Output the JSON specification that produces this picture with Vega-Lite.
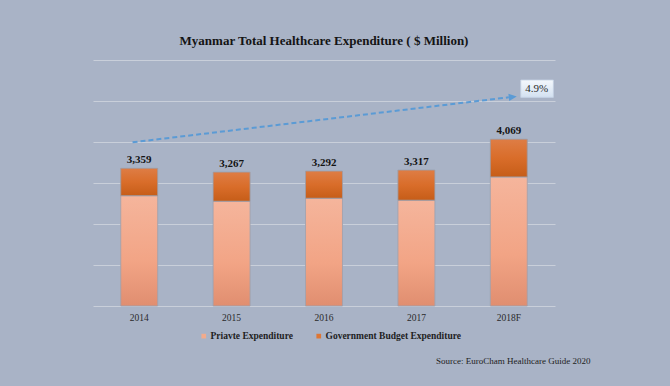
{
  "$schema": "https://vega.github.io/schema/vega-lite/v6.json",
  "autosize": {"type": "none"},
  "padding": {"left": 93, "top": 60, "right": 115, "bottom": 80},
  "width": 462,
  "height": 246,
  "background": "#A9B3C6",
  "title": {
    "text": "Myanmar Total Healthcare Expenditure ( $ Million)",
    "font": "Liberation Serif",
    "fontSize": 13,
    "fontWeight": "bold",
    "color": "#141414",
    "anchor": "middle",
    "offset": 12
  },
  "datasets": {
    "spend": [
      {"year": "2014", "private": 2690, "total": 3359},
      {"year": "2015", "private": 2555, "total": 3267},
      {"year": "2016", "private": 2628, "total": 3292},
      {"year": "2017", "private": 2580, "total": 3317},
      {"year": "2018F", "private": 3148, "total": 4069}
    ],
    "growth": [
      {"year": "2014", "year2": "2018F", "start": 3993, "end": 5090, "labelY": 5300, "label": "4.9%"}
    ]
  },
  "encoding": {
    "x": {
      "field": "year",
      "type": "nominal",
      "sort": null,
      "scale": {"paddingInner": 0.6, "paddingOuter": 0.3},
      "axis": {
        "labelAngle": 0,
        "labelFont": "Liberation Serif",
        "labelFontSize": 9.5,
        "labelColor": "#2a2a2a",
        "labelPadding": 6,
        "domain": false,
        "ticks": false,
        "title": "Source: EuroCham Healthcare Guide 2020",
        "titleFont": "Liberation Serif",
        "titleFontSize": 9,
        "titleFontWeight": "normal",
        "titleColor": "#222222",
        "titleAnchor": "end",
        "titleAlign": "right",
        "titleBaseline": "middle",
        "titleX": 497,
        "titleY": 54
      }
    }
  },
  "layer": [
    {
      "data": {"name": "spend"},
      "mark": {"type": "bar"},
      "encoding": {
        "y": {
          "field": "private",
          "type": "quantitative",
          "scale": {"domain": [0, 6000]},
          "axis": {
            "values": [0, 1000, 2000, 3000, 4000, 5000, 6000],
            "grid": true,
            "gridColor": "#C9CFDA",
            "gridWidth": 1,
            "labels": false,
            "ticks": false,
            "domain": false,
            "title": null
          }
        },
        "color": {
          "datum": "Priavte Expenditure",
          "type": "nominal",
          "scale": {
            "domain": ["Priavte Expenditure", "Government Budget Expenditure"],
            "range": ["#F2AB8C", "#DE7634"]
          },
          "legend": {
            "orient": "none",
            "legendX": 106,
            "legendY": 271,
            "direction": "horizontal",
            "title": null,
            "symbolType": "square",
            "symbolSize": 22,
            "symbolStrokeWidth": 0,
            "labelFont": "Liberation Serif",
            "labelFontSize": 9.5,
            "labelFontWeight": "bold",
            "labelColor": "#1e1e1e",
            "labelOffset": 2,
            "columnPadding": 21,
            "padding": 0
          }
        }
      }
    },
    {
      "data": {"name": "spend"},
      "mark": {"type": "bar"},
      "encoding": {
        "y": {"field": "private", "type": "quantitative"},
        "y2": {"field": "total"},
        "color": {"datum": "Government Budget Expenditure", "type": "nominal"}
      }
    },
    {
      "data": {"name": "spend"},
      "mark": {
        "type": "bar",
        "stroke": "#98A1B3",
        "strokeWidth": 0.8,
        "fill": {
          "gradient": "linear", "x1": 0, "y1": 0, "x2": 0, "y2": 1,
          "stops": [
            {"offset": 0, "color": "#F5B59C"},
            {"offset": 0.6, "color": "#F2A485"},
            {"offset": 1, "color": "#E08E70"}
          ]
        }
      },
      "encoding": {
        "y": {"field": "private", "type": "quantitative"}
      }
    },
    {
      "data": {"name": "spend"},
      "mark": {
        "type": "bar",
        "stroke": "#98A1B3",
        "strokeWidth": 0.8,
        "fill": {
          "gradient": "linear", "x1": 0, "y1": 0, "x2": 0, "y2": 1,
          "stops": [
            {"offset": 0, "color": "#DE7D45"},
            {"offset": 0.5, "color": "#D96D2A"},
            {"offset": 1, "color": "#C65D18"}
          ]
        }
      },
      "encoding": {
        "y": {"field": "private", "type": "quantitative"},
        "y2": {"field": "total"}
      }
    },
    {
      "data": {"name": "spend"},
      "mark": {
        "type": "text",
        "baseline": "bottom",
        "dy": -3,
        "font": "Liberation Serif",
        "fontSize": 11,
        "fontWeight": "bold",
        "color": "#141414"
      },
      "encoding": {
        "y": {"field": "total", "type": "quantitative"},
        "text": {"field": "total", "type": "quantitative", "format": ",d"}
      }
    },
    {
      "data": {"name": "growth"},
      "mark": {"type": "rule", "color": "#5B9BD5", "strokeWidth": 2, "strokeDash": [5, 3]},
      "encoding": {
        "x": {"field": "year", "type": "nominal", "bandPosition": 0.32},
        "x2": {"field": "year2"},
        "y": {"field": "start", "type": "quantitative"},
        "y2": {"field": "end"}
      }
    },
    {
      "data": {"name": "growth"},
      "mark": {
        "type": "point",
        "shape": "M0,-0.45L1,0L0,0.45Z",
        "size": 256,
        "angle": -6.7,
        "filled": true,
        "fill": "#5B9BD5",
        "opacity": 1,
        "strokeWidth": 0
      },
      "encoding": {
        "x": {"field": "year2", "type": "nominal"},
        "y": {"field": "end", "type": "quantitative"}
      }
    },
    {
      "data": {"name": "growth"},
      "mark": {
        "type": "point",
        "shape": "M1.09,-0.79H4.05V0.79H1.09Z",
        "size": 484,
        "filled": true,
        "opacity": 1,
        "stroke": "#C4D2E4",
        "strokeWidth": 0.8,
        "fill": {
          "gradient": "linear", "x1": 0, "y1": 0, "x2": 0, "y2": 1,
          "stops": [
            {"offset": 0, "color": "#F4F8FC"},
            {"offset": 1, "color": "#D3E1F1"}
          ]
        }
      },
      "encoding": {
        "x": {"field": "year2", "type": "nominal"},
        "y": {"field": "labelY", "type": "quantitative"}
      }
    },
    {
      "data": {"name": "growth"},
      "mark": {
        "type": "text",
        "dx": 28,
        "font": "Liberation Serif",
        "fontSize": 11,
        "color": "#2a2a2a",
        "baseline": "middle"
      },
      "encoding": {
        "x": {"field": "year2", "type": "nominal"},
        "y": {"field": "labelY", "type": "quantitative"},
        "text": {"field": "label"}
      }
    }
  ],
  "config": {
    "view": {"stroke": null},
    "axis": {"gridColor": "#C9CFDA"}
  }
}
